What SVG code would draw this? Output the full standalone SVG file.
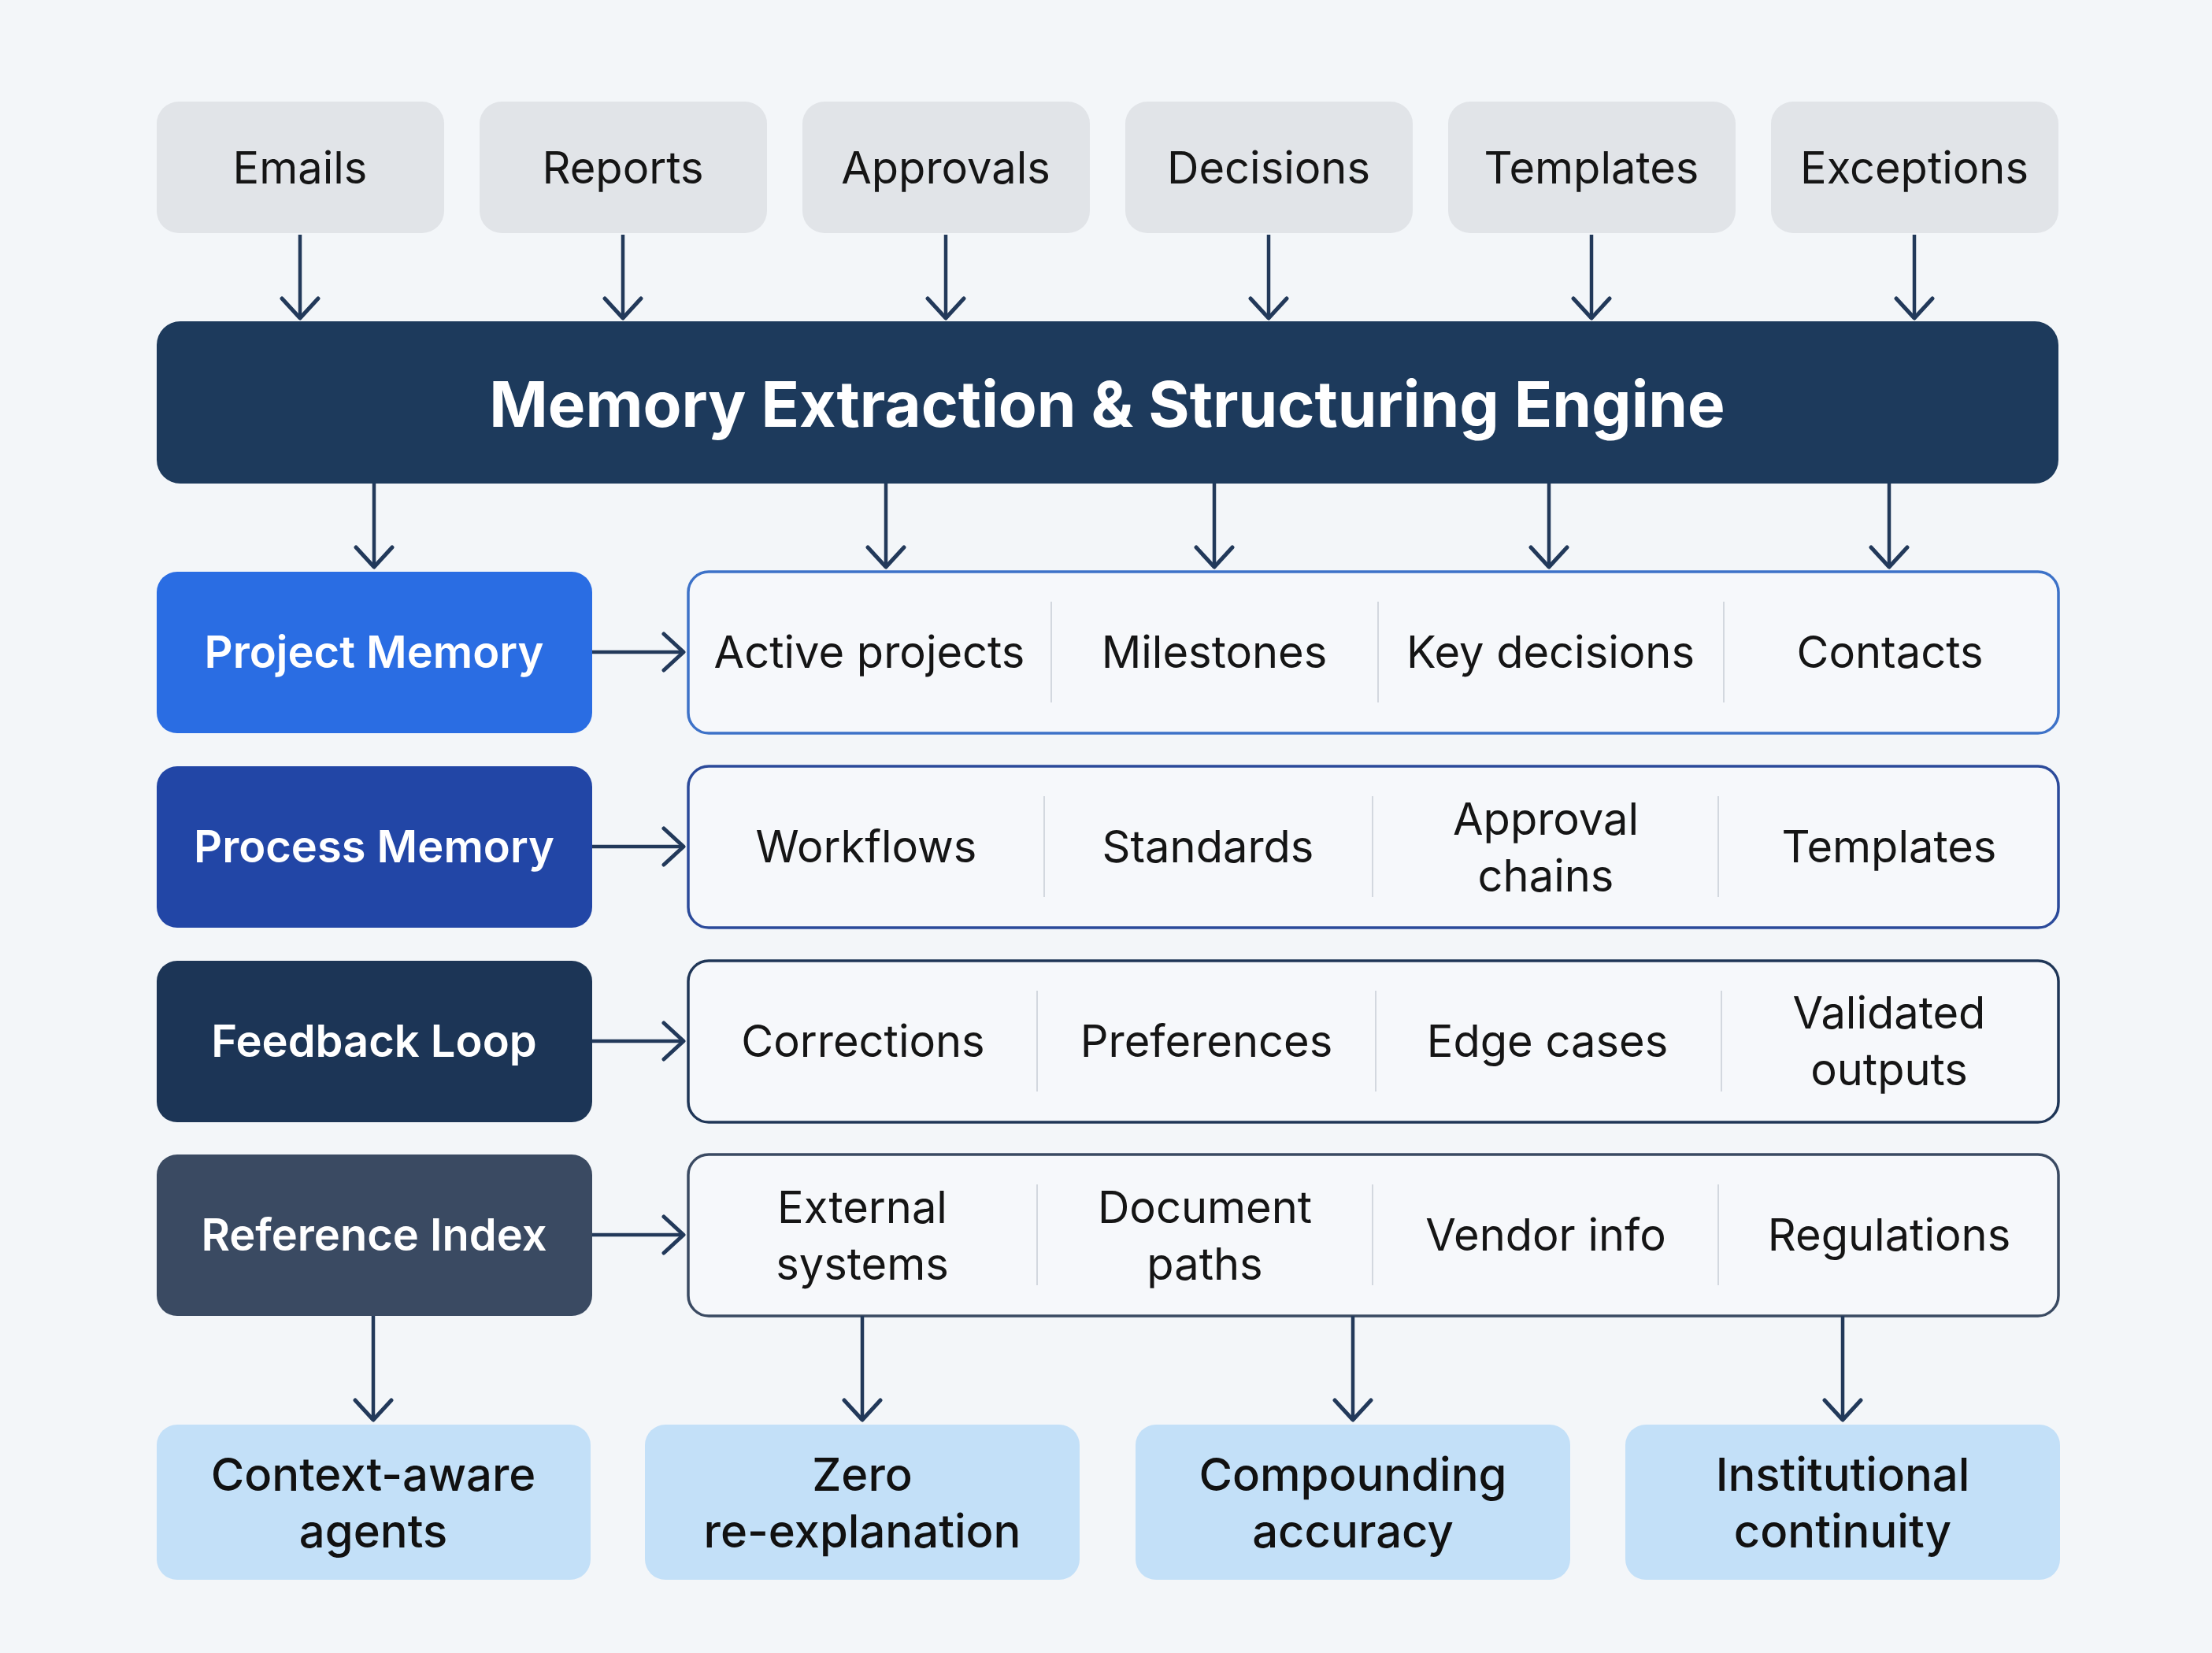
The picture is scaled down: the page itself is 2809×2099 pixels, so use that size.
<svg xmlns="http://www.w3.org/2000/svg" width="2809" height="2099" viewBox="0 0 2809 2099">
<defs>
<marker id="ah" viewBox="0 0 32 54" refX="29" refY="27" markerWidth="32" markerHeight="54" orient="auto" markerUnits="userSpaceOnUse">
<path d="M4,4 L29,27 L4,50" fill="none" stroke="#22395a" stroke-width="5" stroke-linecap="round" stroke-linejoin="round"/>
</marker>
<style>
text{font-family:Inter,"Noto Sans","Liberation Sans",sans-serif;text-anchor:middle;dominant-baseline:central}
.src rect{fill:#e1e4e8}
.src text{font-size:56px;fill:#151515}
.eng rect{fill:#1d3a5c}
.eng text{font-size:80px;font-weight:700;fill:#ffffff}
.cat text{font-size:56px;font-weight:600;fill:#ffffff}
.det rect{fill:#f6f8fb;stroke-width:3.5}
.det text{font-size:56px;fill:#151515}
.det line{stroke:#d3d8df;stroke-width:2}
.out rect{fill:#c3e0f8}
.out text{font-size:58px;font-weight:500;fill:#111111}
.conn line{stroke:#22395a;stroke-width:4.5;marker-end:url(#ah)}
</style>
</defs>
<rect x="0" y="0" width="2809" height="2099" fill="#f3f6f9"/>

<g id="src-emails" class="src"><rect x="199" y="129" width="365" height="167" rx="28"/><text x="381" y="213">Emails</text></g>
<g id="src-reports" class="src"><rect x="609" y="129" width="365" height="167" rx="28"/><text x="791" y="213">Reports</text></g>
<g id="src-approvals" class="src"><rect x="1019" y="129" width="365" height="167" rx="28"/><text x="1201" y="213">Approvals</text></g>
<g id="src-decisions" class="src"><rect x="1429" y="129" width="365" height="167" rx="28"/><text x="1611" y="213">Decisions</text></g>
<g id="src-templates" class="src"><rect x="1839" y="129" width="365" height="167" rx="28"/><text x="2021" y="213">Templates</text></g>
<g id="src-exceptions" class="src"><rect x="2249" y="129" width="365" height="167" rx="28"/><text x="2431" y="213">Exceptions</text></g>

<g id="engine" class="eng"><rect x="199" y="408" width="2415" height="206" rx="30"/><text x="1406" y="512">Memory Extraction &amp; Structuring Engine</text></g>

<g id="project-memory" class="cat"><rect x="199" y="726" width="553" height="205" rx="26" fill="#2a6de3"/><text x="475" y="828">Project Memory</text></g>
<g id="process-memory" class="cat"><rect x="199" y="973" width="553" height="205" rx="26" fill="#2246a6"/><text x="475" y="1075">Process Memory</text></g>
<g id="feedback-loop" class="cat"><rect x="199" y="1220" width="553" height="205" rx="26" fill="#1c3556"/><text x="475" y="1322">Feedback Loop</text></g>
<g id="reference-index" class="cat"><rect x="199" y="1466" width="553" height="205" rx="26" fill="#3a4a62"/><text x="475" y="1568">Reference Index</text></g>

<g id="project-details" class="det">
<rect x="874" y="726" width="1740" height="205" rx="26" stroke="#3d72c8"/>
<line x1="1335" y1="764" x2="1335" y2="892"/><line x1="1750" y1="764" x2="1750" y2="892"/><line x1="2189" y1="764" x2="2189" y2="892"/>
<text x="1104" y="828">Active projects</text><text x="1542" y="828">Milestones</text><text x="1969" y="828">Key decisions</text><text x="2400" y="828">Contacts</text>
</g>
<g id="process-details" class="det">
<rect x="874" y="973" width="1740" height="205" rx="26" stroke="#2b4a9a"/>
<line x1="1326" y1="1011" x2="1326" y2="1139"/><line x1="1743" y1="1011" x2="1743" y2="1139"/><line x1="2182" y1="1011" x2="2182" y2="1139"/>
<text x="1100" y="1075">Workflows</text><text x="1534" y="1075">Standards</text><text x="1963" y="1040">Approval</text><text x="1963" y="1112">chains</text><text x="2399" y="1075">Templates</text>
</g>
<g id="feedback-details" class="det">
<rect x="874" y="1220" width="1740" height="205" rx="26" stroke="#1f3657"/>
<line x1="1317" y1="1258" x2="1317" y2="1386"/><line x1="1747" y1="1258" x2="1747" y2="1386"/><line x1="2186" y1="1258" x2="2186" y2="1386"/>
<text x="1096" y="1322">Corrections</text><text x="1532" y="1322">Preferences</text><text x="1965" y="1322">Edge cases</text><text x="2399" y="1286">Validated</text><text x="2399" y="1358">outputs</text>
</g>
<g id="reference-details" class="det">
<rect x="874" y="1466" width="1740" height="205" rx="26" stroke="#3a4a62"/>
<line x1="1317" y1="1504" x2="1317" y2="1632"/><line x1="1743" y1="1504" x2="1743" y2="1632"/><line x1="2182" y1="1504" x2="2182" y2="1632"/>
<text x="1095" y="1533">External</text><text x="1095" y="1605">systems</text><text x="1530" y="1533">Document</text><text x="1530" y="1605">paths</text><text x="1963" y="1568">Vendor info</text><text x="2399" y="1568">Regulations</text>
</g>

<g id="out-context" class="out"><rect x="199" y="1809" width="551" height="197" rx="26"/><text x="474" y="1872">Context-aware</text><text x="474" y="1944">agents</text></g>
<g id="out-zero" class="out"><rect x="819" y="1809" width="552" height="197" rx="26"/><text x="1095" y="1872">Zero</text><text x="1095" y="1944">re-explanation</text></g>
<g id="out-compounding" class="out"><rect x="1442" y="1809" width="552" height="197" rx="26"/><text x="1718" y="1872">Compounding</text><text x="1718" y="1944">accuracy</text></g>
<g id="out-continuity" class="out"><rect x="2064" y="1809" width="552" height="197" rx="26"/><text x="2340" y="1872">Institutional</text><text x="2340" y="1944">continuity</text></g>

<g id="connectors" class="conn">
<line x1="381" y1="298" x2="381" y2="404"/>
<line x1="791" y1="298" x2="791" y2="404"/>
<line x1="1201" y1="298" x2="1201" y2="404"/>
<line x1="1611" y1="298" x2="1611" y2="404"/>
<line x1="2021" y1="298" x2="2021" y2="404"/>
<line x1="2431" y1="298" x2="2431" y2="404"/>
<line x1="475" y1="614" x2="475" y2="720"/>
<line x1="1125" y1="614" x2="1125" y2="720"/>
<line x1="1542" y1="614" x2="1542" y2="720"/>
<line x1="1967" y1="614" x2="1967" y2="720"/>
<line x1="2399" y1="614" x2="2399" y2="720"/>
<line x1="752" y1="828" x2="868" y2="828"/>
<line x1="752" y1="1075" x2="868" y2="1075"/>
<line x1="752" y1="1322" x2="868" y2="1322"/>
<line x1="752" y1="1568" x2="868" y2="1568"/>
<line x1="474" y1="1671" x2="474" y2="1803"/>
<line x1="1095" y1="1671" x2="1095" y2="1803"/>
<line x1="1718" y1="1671" x2="1718" y2="1803"/>
<line x1="2340" y1="1671" x2="2340" y2="1803"/>
</g>
</svg>
